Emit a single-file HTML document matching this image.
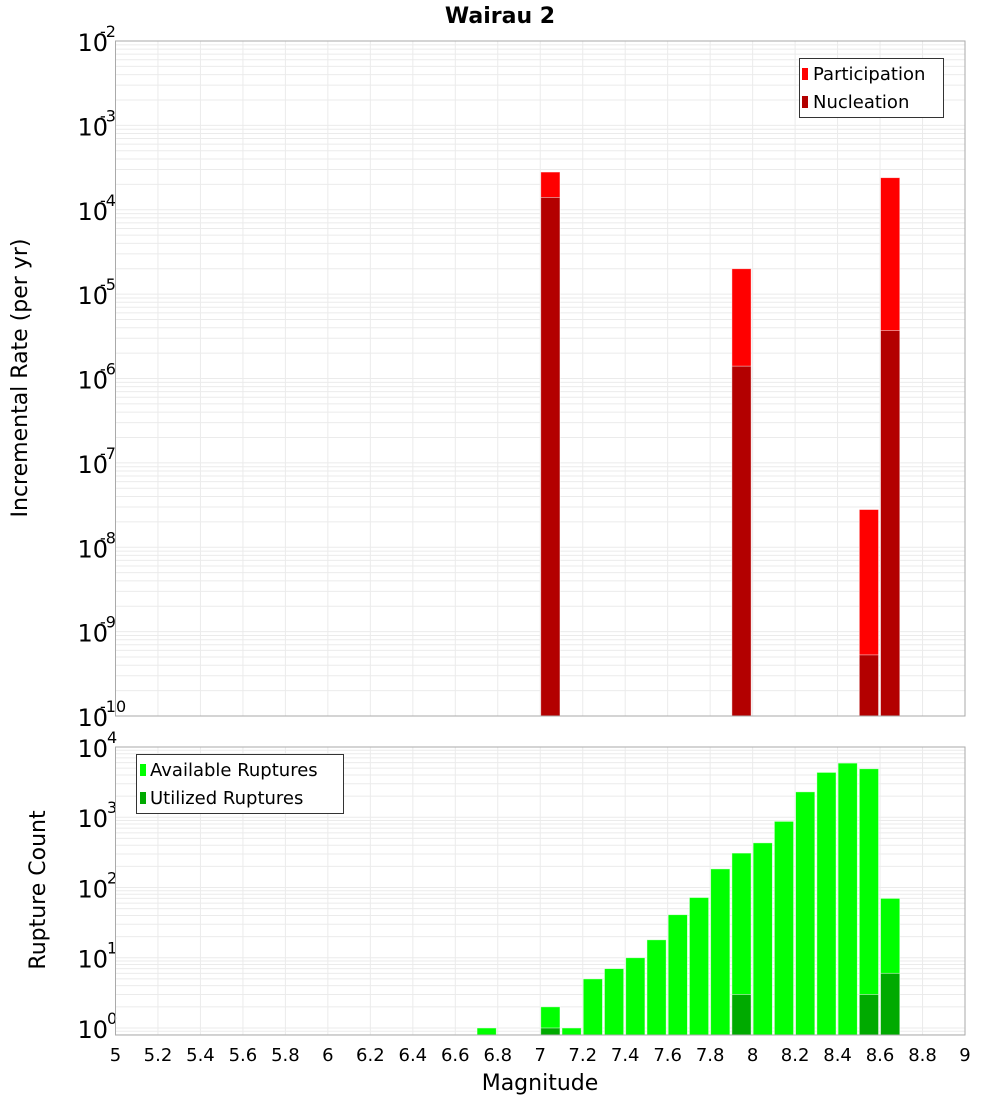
<!DOCTYPE html>
<html><head><meta charset="utf-8"><style>
body{margin:0;background:#fff;}
svg text{font-family:"DejaVu Sans","Liberation Sans",sans-serif;fill:#000;}
</style></head><body>
<svg id="c" width="1000" height="1100" xmlns="http://www.w3.org/2000/svg">
<text x="500" y="23" text-anchor="middle" font-size="22" font-weight="bold">Wairau 2</text>
<g id="top"></g>
<g id="bot"></g>
<text transform="translate(27,378) rotate(-90)" text-anchor="middle" font-size="22">Incremental Rate (per yr)</text>
<text transform="translate(45,890) rotate(-90)" text-anchor="middle" font-size="22">Rupture Count</text>
<text x="540" y="1090" text-anchor="middle" font-size="22">Magnitude</text>
<g>
<rect x="799.5" y="58.5" width="144" height="59" fill="#fff" stroke="#333"/>
<rect x="802" y="68" width="6" height="12" fill="#ff0000"/>
<text x="813" y="80" font-size="18">Participation</text>
<rect x="802" y="96" width="6" height="12" fill="#b30000"/>
<text x="813" y="108" font-size="18">Nucleation</text>
</g>
<g>
<rect x="136.5" y="754.5" width="207" height="59" fill="#fff" stroke="#333"/>
<rect x="140" y="764" width="6" height="12" fill="#00ff00"/>
<text x="150" y="776" font-size="18">Available Ruptures</text>
<rect x="140" y="792" width="6" height="12" fill="#00aa00"/>
<text x="150" y="804" font-size="18">Utilized Ruptures</text>
</g>
</svg>
<script>
const xTicks=[5,5.2,5.4,5.6,5.8,6,6.2,6.4,6.6,6.8,7,7.2,7.4,7.6,7.8,8,8.2,8.4,8.6,8.8,9];
const topMags=[7.0,7.9,8.5,8.6];
const participation=[2.8e-4,2.0e-5,2.8e-8,2.4e-4];
const nucleation=[1.4e-4,1.4e-6,5.3e-10,3.7e-6];
const botMags=[6.7,7.0,7.1,7.2,7.3,7.4,7.5,7.6,7.7,7.8,7.9,8.0,8.1,8.2,8.3,8.4,8.5,8.6];
const available=[1,2,1,5,7,10,18,41,72,184,309,432,874,2300,4350,5900,4900,70];
const utilized=[0,1,0,0,0,0,0,0,0,0,3,0,0,0,0,0,3,6];
const topExp=[-10,-9,-8,-7,-6,-5,-4,-3,-2];
const botExp=[0,1,2,3,4];

const NS="http://www.w3.org/2000/svg";
const L=115.5,R=965;
const X=m=>L+(m-5)/4*(R-L);
const P1={t:41,b:716,lo:-10,hi:-2};
const P2={t:747,b:1035,lo:-0.1,hi:4};
const Y=(P,v)=>P.b-(Math.log10(v)-P.lo)/(P.hi-P.lo)*(P.b-P.t);
function mk(par,tag,a){const e=document.createElementNS(NS,tag);for(const k in a)e.setAttribute(k,a[k]);par.appendChild(e);return e;}
function panel(g,P,exps,name){
  mk(g,'rect',{x:L,y:P.t,width:R-L,height:P.b-P.t,fill:'#fff'});
  for(let d=Math.floor(P.lo);d<P.hi;d++)for(let k=1;k<10;k++){
    const v=k*Math.pow(10,d);const lv=Math.log10(v);if(lv<P.lo||lv>P.hi)continue;
    const y=Y(P,v);
    const ln=mk(g,'line',{x1:L,x2:R,y1:y,y2:y,stroke:'#ebebeb','stroke-width':1});
    
    
  }
  xTicks.forEach(m=>{const x=X(m);
    const ln=mk(g,'line',{x1:x,x2:x,y1:P.t,y2:P.b,stroke:'#ebebeb','stroke-width':1});
    
    });
  exps.forEach(e=>{const y=Y(P,Math.pow(10,e));
    const t=mk(g,'text',{x:108,y:y+10,'text-anchor':'end','font-size':24});
    
    
    t.textContent='10';
    const s=mk(g,'text',{x:107,y:y-4,'font-size':16});
    
    
    s.textContent=String(e);
    if(e<0)s.setAttribute('x',100);
  });
}
function bar(g,m,v,P,fill,name){
  if(!(v>0))return;
  const y=Y(P,v);
  const r=mk(g,'rect',{x:X(m)+0.5,y:y,width:X(m+0.1)-X(m)-2,height:P.b-y,fill:fill,stroke:'rgba(255,255,255,0.6)','stroke-width':0.8});
  
  
}
const gt=document.getElementById('top'),gb=document.getElementById('bot');
panel(gt,P1,topExp,'top');
panel(gb,P2,botExp,'bottom');
topMags.forEach((m,i)=>{bar(gt,m,participation[i],P1,'#ff0000','participation-bar');bar(gt,m,nucleation[i],P1,'#b30000','nucleation-bar');});
botMags.forEach((m,i)=>{bar(gb,m,available[i],P2,'#00ff00','available-bar');bar(gb,m,utilized[i],P2,'#00aa00','utilized-bar');});
[P1,P2].forEach((P,j)=>{const r=mk(j?gb:gt,'rect',{x:L,y:P.t,width:R-L,height:P.b-P.t,fill:'none',stroke:'#aaa','stroke-width':1});
  
  });
xTicks.forEach(m=>{const t=mk(gb,'text',{x:X(m),y:1061,'text-anchor':'middle','font-size':18});
  
  
  t.textContent=String(m);});
</script>
</body></html>
